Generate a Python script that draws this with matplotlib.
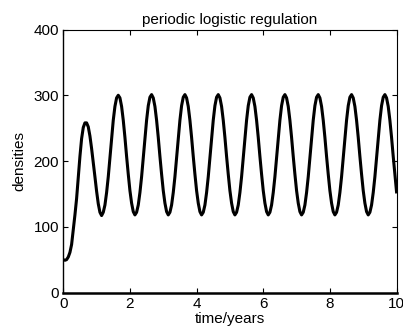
import numpy as np
import matplotlib
matplotlib.use("Agg")
import matplotlib.pyplot as plt

plt.rcParams['font.family'] = ['Liberation Sans', 'DejaVu Sans']

# time axis, sampled every 0.05 years
years = np.linspace(0, 10, 201)

# densities, one row per year
densities = (
    [50, 49, 50, 54, 61, 73, 95, 118, 143, 175, 207, 234, 251, 258, 258, 252, 238, 219, 198, 176]
    + [154, 135, 122, 117, 122, 133, 152, 176, 205, 235, 262, 283, 296, 300, 296, 283, 262, 236, 207, 180]
    + [155, 136, 123, 118, 122, 133, 152, 176, 205, 235, 262, 284, 297, 301, 296, 283, 262, 236, 207, 180]
    + [155, 136, 123, 118, 122, 133, 152, 176, 205, 235, 262, 284, 297, 301, 296, 283, 262, 236, 207, 180]
    + [155, 136, 123, 118, 122, 133, 152, 176, 205, 235, 262, 284, 297, 301, 296, 283, 262, 236, 207, 180]
    + [155, 136, 123, 118, 122, 133, 152, 176, 205, 235, 262, 284, 297, 301, 296, 283, 262, 236, 207, 180]
    + [155, 136, 123, 118, 122, 133, 152, 176, 205, 235, 262, 284, 297, 301, 296, 283, 262, 236, 207, 180]
    + [155, 136, 123, 118, 122, 133, 152, 176, 205, 235, 262, 284, 297, 301, 296, 283, 262, 236, 207, 180]
    + [155, 136, 123, 118, 122, 133, 152, 176, 205, 235, 262, 284, 297, 301, 296, 283, 262, 236, 207, 180]
    + [155, 136, 123, 118, 122, 133, 152, 176, 205, 235, 262, 284, 297, 301, 296, 283, 262, 236, 207, 180]
    + [153]
)

xticks = [0, 2, 4, 6, 8, 10]
yticks = [0, 100, 200, 300, 400]

fig = plt.figure(figsize=(4.03, 3.33), dpi=100)
ax = fig.add_axes([0.157, 0.1216, 0.827, 0.7898])

ax.plot(years, densities, color='black', linewidth=2.2, solid_joinstyle='round')

ax.set_xlim(0, 10)
ax.set_ylim(0, 400)
ax.set_xticks(xticks)
ax.set_yticks(yticks)
ax.tick_params(direction='in', top=True, right=True, length=3.5, width=0.8,
               labelsize=11, pad=3)

for side in ['top', 'right']:
    ax.spines[side].set_linewidth(0.8)
ax.spines['left'].set_linewidth(1.0)
ax.spines['bottom'].set_linewidth(1.8)

ax.set_title('periodic logistic regulation', fontsize=11, pad=4)
ax.set_xlabel('time/years', fontsize=11, labelpad=1)
ax.set_ylabel('densities', fontsize=11, labelpad=5)

fig.savefig('out.png', dpi=100)
